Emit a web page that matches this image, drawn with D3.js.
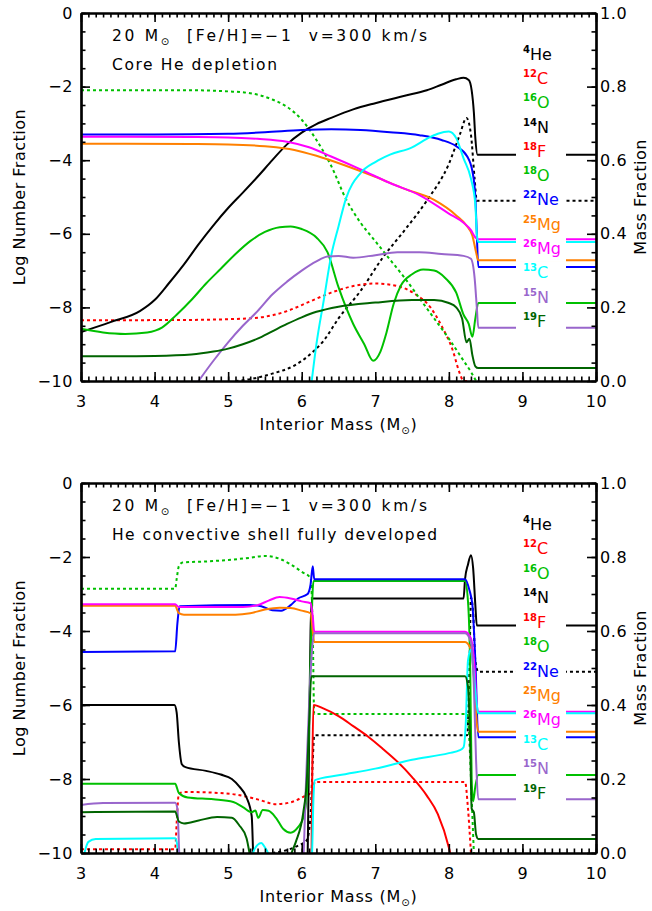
<!DOCTYPE html>
<html>
<head>
<meta charset="utf-8">
<script src="https://cdn.jsdelivr.net/npm/d3@7"></script>
<style>
  body { margin: 0; background: #fff; }
  text { font-family: "DejaVu Sans", sans-serif; }
</style>
</head>
<body>
<script>
// Axis ticks
var xTicks = [3, 4, 5, 6, 7, 8, 9, 10];
var logTicks = [0, -2, -4, -6, -8, -10];
var massTicks = [0.0, 0.2, 0.4, 0.6, 0.8, 1.0];

// Legend (mass number, element, colour)
var legendMass = ["4", "12", "16", "14", "18", "18", "22", "25", "26", "13", "15", "19"];
var legendElem = ["He", "C", "O", "N", "F", "O", "Ne", "Mg", "Mg", "C", "N", "F"];
var legendColors = ["#000000", "#ff0000", "#00c000", "#000000", "#ff0000", "#00c000",
                    "#0000ff", "#ff8000", "#ff00ff", "#00ffff", "#9966cc", "#006400"];

// Panel titles
var titleLine = "20 M|⊙|  [Fe/H]=−1  v=300 km/s";
var panelTitles = ["Core He depletion", "He convective shell fully developed"];
var panelTitleWidths = [165, 325];

// ---------- Top panel: core He depletion ----------
// mass fractions (right axis), drawn dotted
var depHe4 = [[5.1,0.0],[5.3,0.005],[5.6,0.02],[5.9,0.042],[6.1,0.07],[6.3,0.11],[6.5,0.17],[6.8,0.245],[7.1,0.335],[7.4,0.41],[7.7,0.49],[8.0,0.59],[8.15,0.67],[8.24,0.715],[8.3,0.67],[8.35,0.55],[8.38,0.49],[10,0.49]];
var depC12 = [[3,0.165],[4.5,0.166],[5.0,0.168],[5.4,0.172],[5.8,0.19],[6.1,0.215],[6.4,0.24],[6.7,0.258],[7.0,0.265],[7.3,0.258],[7.55,0.235],[7.75,0.2],[7.9,0.15],[8.05,0.085],[8.15,0.02],[8.2,0.0],[8.3,0.0]];
var depO16 = [[3,0.79],[4.5,0.79],[5.0,0.787],[5.3,0.782],[5.6,0.765],[5.8,0.745],[6.0,0.71],[6.2,0.655],[6.4,0.585],[6.6,0.495],[6.8,0.43],[7.0,0.38],[7.2,0.33],[7.4,0.28],[7.6,0.225],[7.8,0.17],[8.0,0.115],[8.2,0.055],[8.3,0.025],[8.37,0.0]];
// log number fractions (left axis)
var depN14 = [[3.0,-8.67],[3.4,-8.4],[3.8,-8.1],[4.0,-7.8],[4.2,-7.33],[4.4,-6.83],[4.6,-6.28],[4.8,-5.77],[5.0,-5.3],[5.2,-4.88],[5.4,-4.45],[5.6,-4.0],[5.8,-3.57],[6.0,-3.25],[6.2,-3.02],[6.4,-2.85],[6.7,-2.62],[7.0,-2.45],[7.4,-2.25],[7.7,-2.1],[7.9,-1.95],[8.1,-1.8],[8.2,-1.76],[8.27,-1.82],[8.31,-2.1],[8.34,-2.7],[8.36,-3.4],[8.39,-3.85],[10,-3.85]];
var depF18 = [];
var depO18 = [[3,-8.58],[3.3,-8.68],[3.6,-8.72],[3.9,-8.68],[4.1,-8.55],[4.3,-8.2],[4.5,-7.8],[4.7,-7.35],[4.9,-6.95],[5.1,-6.55],[5.3,-6.2],[5.5,-5.95],[5.7,-5.82],[5.85,-5.8],[6.0,-5.87],[6.2,-6.1],[6.35,-6.5],[6.5,-7.45],[6.7,-8.45],[6.85,-9.0],[6.97,-9.45],[7.07,-9.2],[7.15,-8.7],[7.25,-7.9],[7.35,-7.4],[7.5,-7.1],[7.65,-6.97],[7.8,-7.0],[7.95,-7.2],[8.1,-7.6],[8.2,-8.2],[8.27,-8.45],[8.32,-8.8],[8.36,-8.3],[8.4,-7.88],[10,-7.88]];
var depNe22 = [[3,-3.3],[4,-3.3],[5,-3.28],[5.5,-3.24],[6.0,-3.18],[6.4,-3.16],[6.8,-3.18],[7.2,-3.24],[7.6,-3.32],[7.9,-3.45],[8.1,-3.62],[8.25,-3.9],[8.32,-4.3],[8.36,-5.0],[8.38,-6.0],[8.4,-6.9],[10,-6.9]];
var depMg25 = [[3,-3.55],[4.5,-3.56],[5.0,-3.57],[5.5,-3.62],[5.9,-3.72],[6.2,-3.88],[6.6,-4.15],[7.0,-4.45],[7.4,-4.78],[7.8,-5.08],[8.1,-5.5],[8.25,-5.8],[8.32,-6.05],[8.37,-6.5],[8.4,-6.72],[10,-6.72]];
var depMg26 = [[3,-3.36],[4.5,-3.37],[5.0,-3.38],[5.4,-3.42],[5.8,-3.5],[6.1,-3.65],[6.4,-3.9],[6.8,-4.25],[7.2,-4.62],[7.6,-4.95],[8.0,-5.45],[8.2,-5.7],[8.3,-5.9],[8.36,-6.1],[8.4,-6.15],[10,-6.15]];
var depC13 = [[6.13,-10.1],[6.2,-9.0],[6.3,-7.8],[6.4,-6.6],[6.5,-5.8],[6.6,-5.05],[6.8,-4.35],[7.0,-4.05],[7.2,-3.85],[7.5,-3.65],[7.7,-3.42],[7.85,-3.28],[8.0,-3.22],[8.1,-3.4],[8.2,-3.95],[8.3,-4.5],[8.36,-5.2],[8.38,-6.0],[8.4,-6.22],[10,-6.22]];
var depN15 = [[4.58,-10.05],[4.8,-9.45],[5.0,-8.95],[5.2,-8.5],[5.4,-8.1],[5.6,-7.65],[5.8,-7.3],[6.0,-7.0],[6.2,-6.75],[6.35,-6.62],[6.5,-6.6],[6.7,-6.65],[7.0,-6.58],[7.3,-6.5],[7.6,-6.5],[7.9,-6.55],[8.2,-6.6],[8.3,-6.68],[8.35,-7.2],[8.38,-8.0],[8.4,-8.55],[10,-8.55]];
var depF19 = [[3,-9.33],[3.5,-9.33],[4.0,-9.32],[4.5,-9.28],[4.8,-9.2],[5.0,-9.12],[5.2,-9.0],[5.4,-8.85],[5.6,-8.65],[5.8,-8.45],[6.0,-8.27],[6.2,-8.12],[6.5,-7.98],[7.0,-7.87],[7.5,-7.8],[7.8,-7.8],[8.0,-7.88],[8.1,-8.0],[8.18,-8.3],[8.24,-8.95],[8.28,-8.85],[8.32,-9.3],[8.36,-9.6],[8.4,-9.65],[10,-9.65]];

// ---------- Bottom panel: He convective shell ----------
var shHe4 = [[5.6,0.0],[5.8,0.008],[5.95,0.02],[6.07,0.035],[6.12,0.1],[6.15,0.25],[6.17,0.318],[8.25,0.318],[8.28,0.5],[8.3,0.69],[8.33,0.65],[8.36,0.52],[8.4,0.49],[10,0.49]];
var shC12 = [[3,0.01],[4.28,0.01],[4.3,0.08],[4.33,0.16],[4.4,0.165],[4.8,0.163],[5.1,0.158],[5.4,0.145],[5.65,0.132],[5.85,0.137],[6.05,0.155],[6.14,0.165],[6.18,0.192],[8.22,0.192],[8.26,0.12],[8.3,0.0]];
var shO16 = [[3,0.714],[4.28,0.714],[4.3,0.74],[4.33,0.775],[4.38,0.785],[4.7,0.788],[5.0,0.792],[5.3,0.798],[5.5,0.803],[5.7,0.795],[5.85,0.78],[6.0,0.76],[6.12,0.743],[6.15,0.6],[6.17,0.376],[8.25,0.376],[8.28,0.3],[8.31,0.15],[8.34,0.0]];
var shN14 = [[3,-6.0],[4.27,-6.0],[4.3,-6.2],[4.33,-7.0],[4.37,-7.6],[4.42,-7.68],[4.7,-7.78],[4.9,-7.88],[5.05,-8.0],[5.15,-8.2],[5.25,-8.5],[5.32,-9.0],[5.35,-10.5],[5.4,-11],[6.05,-11],[6.08,-10.2],[6.1,-7.0],[6.12,-4.0],[6.14,-3.12],[8.2,-3.12],[8.22,-2.6],[8.26,-2.2],[8.3,-1.95],[8.33,-2.3],[8.36,-3.3],[8.38,-3.85],[10,-3.85]];
var shF18 = [[6.13,-11],[6.16,-6.0],[6.3,-6.1],[6.5,-6.3],[6.7,-6.57],[6.9,-6.85],[7.1,-7.18],[7.3,-7.53],[7.5,-7.95],[7.7,-8.45],[7.85,-8.95],[8.0,-9.85],[8.05,-10.3]];
var shO18 = [[3,-8.13],[4.28,-8.13],[4.33,-8.38],[4.45,-8.5],[4.8,-8.55],[5.07,-8.62],[5.2,-8.76],[5.32,-8.9],[5.37,-8.85],[5.41,-9.05],[5.47,-8.84],[5.55,-8.86],[5.65,-9.05],[5.75,-9.35],[5.85,-9.45],[5.95,-9.3],[6.03,-9.0],[6.07,-8.4],[6.1,-6.5],[6.13,-4.0],[6.16,-2.65],[8.22,-2.65],[8.26,-3.2],[8.29,-5.0],[8.31,-8.0],[8.33,-8.6],[8.36,-8.2],[8.4,-7.89],[10,-7.89]];
var shNe22 = [[3,-4.57],[4.28,-4.55],[4.31,-3.8],[4.34,-3.33],[5.3,-3.3],[5.45,-3.33],[5.6,-3.44],[5.72,-3.45],[5.85,-3.3],[5.95,-3.12],[6.08,-3.0],[6.12,-2.75],[6.15,-2.25],[6.17,-2.6],[8.22,-2.6],[8.28,-2.9],[8.32,-3.3],[8.36,-4.8],[8.4,-6.87],[10,-6.87]];
var shMg25 = [[3,-3.32],[4.28,-3.32],[4.33,-3.52],[4.4,-3.56],[5.1,-3.56],[5.3,-3.52],[5.5,-3.42],[5.7,-3.37],[5.85,-3.38],[6.0,-3.45],[6.12,-3.52],[6.15,-4.0],[6.17,-4.3],[8.22,-4.3],[8.3,-4.5],[8.35,-5.5],[8.38,-6.5],[8.4,-6.72],[10,-6.72]];
var shMg26 = [[3,-3.28],[4.28,-3.28],[4.33,-3.35],[5.2,-3.35],[5.4,-3.3],[5.55,-3.18],[5.7,-3.08],[5.85,-3.12],[6.0,-3.2],[6.12,-3.25],[6.15,-3.6],[6.17,-4.02],[8.22,-4.02],[8.3,-4.2],[8.35,-5.0],[8.38,-6.0],[8.4,-6.18],[10,-6.18]];
var shC13 = [[3.04,-10.05],[3.1,-9.7],[3.2,-9.62],[4.28,-9.6],[4.31,-9.8],[4.34,-10.6],[4.4,-11],[5.25,-11],[5.33,-10.05],[5.4,-9.78],[5.45,-9.73],[5.5,-9.85],[5.55,-10.05],[5.6,-11],[6.1,-11],[6.14,-10.05],[6.16,-8.5],[6.18,-8.03],[6.5,-7.9],[7.0,-7.72],[7.5,-7.48],[8.0,-7.3],[8.15,-7.22],[8.2,-7.14],[8.23,-6.5],[8.26,-4.8],[8.3,-4.5],[8.34,-5.2],[8.38,-6.0],[8.4,-6.22],[10,-6.22]];
var shN15 = [[3,-8.7],[3.3,-8.65],[4.28,-8.64],[4.31,-8.8],[4.34,-10.2],[4.4,-11],[5.95,-11],[6.02,-10.2],[6.06,-8.0],[6.1,-6.0],[6.14,-4.5],[6.17,-4.06],[8.22,-4.06],[8.3,-4.3],[8.34,-5.5],[8.37,-7.5],[8.4,-8.55],[10,-8.55]];
var shF19 = [[3,-8.9],[4.28,-8.88],[4.33,-9.15],[4.4,-9.2],[4.6,-9.12],[4.85,-9.03],[5.05,-9.05],[5.15,-9.25],[5.25,-9.6],[5.3,-10.1],[5.4,-11],[5.78,-11],[5.85,-10.1],[5.92,-9.7],[6.02,-8.92],[6.07,-8.0],[6.1,-6.5],[6.13,-5.22],[8.22,-5.22],[8.26,-5.5],[8.29,-7.0],[8.31,-8.8],[8.34,-8.9],[8.37,-9.5],[8.4,-9.62],[10,-9.62]];

// Layout
var width = 652, height = 911;
var plotLeft = 81, plotRight = 596;
var panelTops = [13, 483];
var panelBottoms = [381, 853];

var svg = d3.select("body")
            .append("svg")
            .attr("width", width)
            .attr("height", height);

var panels = [
  {massSeries: [depHe4, depC12, depO16],
   logSeries: [depN14, depF18, depO18, depNe22, depMg25, depMg26, depC13, depN15, depF19]},
  {massSeries: [shHe4, shC12, shO16],
   logSeries: [shN14, shF18, shO18, shNe22, shMg25, shMg26, shC13, shN15, shF19]}
];

panels.forEach(function(p, k){ drawPanel(p, k); });

function drawPanel(p, k){
  var top = panelTops[k], bottom = panelBottoms[k];

  var x = d3.scaleLinear().domain([3, 10]).range([plotLeft, plotRight]);
  var yLog = d3.scaleLinear().domain([-10, 0]).range([bottom, top]);
  var yMass = d3.scaleLinear().domain([0, 1]).range([bottom, top]);

  svg.append("clipPath")
     .attr("id", "clip" + k)
     .append("rect")
     .attr("x", plotLeft)
     .attr("y", top)
     .attr("width", plotRight - plotLeft)
     .attr("height", bottom - top);

  var g = svg.append("g").attr("clip-path", "url(#clip" + k + ")");

  var lineMass = d3.line()
                   .x(function(d){ return x(d[0]); })
                   .y(function(d){ return yMass(d[1]); })
                   .curve(d3.curveMonotoneX);
  var lineLog = d3.line()
                  .x(function(d){ return x(d[0]); })
                  .y(function(d){ return yLog(d[1]); })
                  .curve(d3.curveMonotoneX);

  // Mass fractions: dotted
  p.massSeries.forEach(function(s, i){
    if (s.length == 0) return;
    g.append("path")
     .datum(s)
     .attr("d", lineMass)
     .attr("fill", "none")
     .attr("stroke", legendColors[i])
     .attr("stroke-width", 2)
     .attr("stroke-dasharray", "3,3");
  });

  // Number fractions: solid
  p.logSeries.forEach(function(s, i){
    if (s.length == 0) return;
    g.append("path")
     .datum(s)
     .attr("d", lineLog)
     .attr("fill", "none")
     .attr("stroke", legendColors[i + 3])
     .attr("stroke-width", 2)
     .attr("stroke-linejoin", "round");
  });

  // Legend with white boxes over the lines
  var h = bottom - top;
  var legY = function(i){ return top + (0.127 + 0.066 * i) * h; };

  svg.selectAll(".legBox" + k)
     .data(legendElem)
     .enter()
     .append("rect")
     .attr("class", "legBox" + k)
     .attr("x", 516)
     .attr("y", function(d, i){ return legY(i) - 17; })
     .attr("width", 50)
     .attr("height", 0.066 * h + 0.5)
     .attr("fill", "#fff");

  var leg = svg.selectAll(".legText" + k)
               .data(legendElem)
               .enter()
               .append("text")
               .attr("class", "legText" + k)
               .attr("x", 523)
               .attr("y", function(d, i){ return legY(i); })
               .attr("fill", function(d, i){ return legendColors[i]; });
  leg.append("tspan")
     .attr("font-size", 10)
     .attr("font-weight", "bold")
     .attr("dy", -7)
     .text(function(d, i){ return legendMass[i]; });
  leg.append("tspan")
     .attr("font-size", 16)
     .attr("dy", 7)
     .text(function(d){ return d; });

  // Titles inside the plot
  var parts = titleLine.split("|");
  var t1 = svg.append("text")
              .attr("x", 112)
              .attr("y", top + 28)
              .attr("font-size", 15.5)
              .attr("textLength", 315)
              .attr("lengthAdjust", "spacing")
              .style("white-space", "pre");
  t1.append("tspan").text(parts[0]);
  t1.append("tspan").attr("font-size", 10).attr("dy", 4).text(parts[1]);
  t1.append("tspan").attr("dy", -4).text(parts[2]);

  svg.append("text")
     .attr("x", 112)
     .attr("y", top + 57)
     .attr("font-size", 15.5)
     .attr("textLength", panelTitleWidths[k])
     .attr("lengthAdjust", "spacing")
     .text(panelTitles[k]);

  // Axes, ticks pointing inwards
  var axes = svg.append("g");
  var major = function(axis){ return axis.tickSize(-9).tickSizeOuter(0); };
  var minor = function(axis){ return axis.tickSize(-4.5).tickSizeOuter(0).tickFormat(""); };
  var xMinor = d3.range(30, 101).map(function(v){ return v / 10; });

  axes.append("g").attr("transform", "translate(0," + bottom + ")")
      .call(minor(d3.axisBottom(x).tickValues(xMinor)));
  axes.append("g").attr("transform", "translate(0," + bottom + ")")
      .call(major(d3.axisBottom(x).tickValues(xTicks).tickFormat(d3.format("d")).tickPadding(15)));
  axes.append("g").attr("transform", "translate(0," + top + ")")
      .call(minor(d3.axisTop(x).tickValues(xMinor)));
  axes.append("g").attr("transform", "translate(0," + top + ")")
      .call(major(d3.axisTop(x).tickValues(xTicks)).tickFormat(""));

  axes.append("g").attr("transform", "translate(" + plotLeft + ",0)")
      .call(minor(d3.axisLeft(yLog).tickValues(d3.range(-20, 1).map(function(v){ return v / 2; }))));
  axes.append("g").attr("transform", "translate(" + plotLeft + ",0)")
      .call(major(d3.axisLeft(yLog).tickValues(logTicks).tickFormat(d3.format("d")).tickPadding(8)));

  axes.append("g").attr("transform", "translate(" + plotRight + ",0)")
      .call(minor(d3.axisRight(yMass).tickValues(d3.range(0, 21).map(function(v){ return v / 20; }))));
  axes.append("g").attr("transform", "translate(" + plotRight + ",0)")
      .call(major(d3.axisRight(yMass).tickValues(massTicks).tickFormat(d3.format(".1f")).tickPadding(4)));

  axes.selectAll(".domain").attr("stroke", "#000").attr("stroke-width", 2.2);
  axes.selectAll(".tick line").attr("stroke", "#000").attr("stroke-width", 1.6);
  axes.selectAll(".tick text")
      .attr("font-family", "DejaVu Sans, sans-serif")
      .attr("font-size", 16)
      .style("letter-spacing", "0.6px")
      .attr("fill", "#000");

  // Axis titles
  var xt = svg.append("text")
              .attr("x", (plotLeft + plotRight) / 2)
              .attr("y", bottom + 49)
              .attr("text-anchor", "middle")
              .attr("font-size", 16)
              .style("letter-spacing", "0.8px");
  xt.append("tspan").text("Interior Mass (M");
  xt.append("tspan").attr("font-size", 10).attr("dy", 4).text("⊙");
  xt.append("tspan").attr("dy", -4).text(")");

  svg.append("text")
     .attr("transform", "translate(25," + (top + bottom) / 2 + ") rotate(-90)")
     .attr("text-anchor", "middle")
     .attr("font-size", 16)
     .style("letter-spacing", "0.5px")
     .text("Log Number Fraction");

  svg.append("text")
     .attr("transform", "translate(646," + (top + bottom) / 2 + ") rotate(-90)")
     .attr("text-anchor", "middle")
     .attr("font-size", 16)
     .style("letter-spacing", "0.5px")
     .text("Mass Fraction");
}
</script>
</body>
</html>
